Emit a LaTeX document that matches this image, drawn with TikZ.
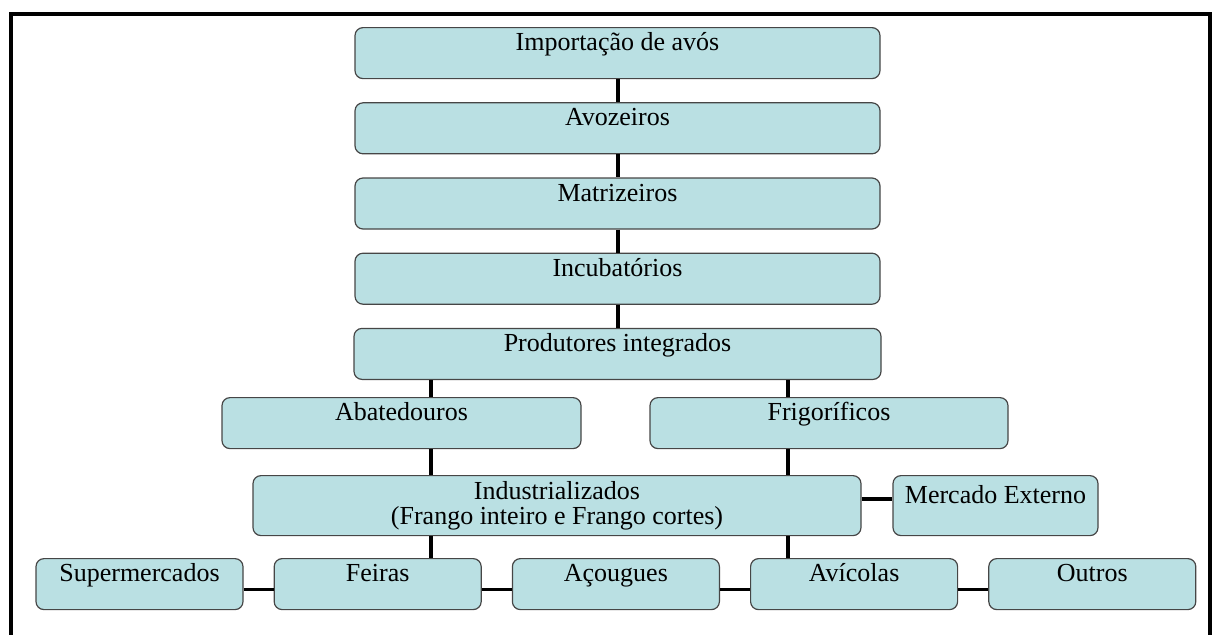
\documentclass[tikz,border=0pt]{standalone}
\usepackage{fontspec}
\setmainfont{Liberation Serif}
\usetikzlibrary{positioning}

\definecolor{caixaazul}{RGB}{186,224,227}
\definecolor{bordacinza}{RGB}{70,70,70}

\begin{document}
\begin{tikzpicture}[x=0.5pt, y=-0.5pt,
    caixa/.style={draw=bordacinza, fill=caixaazul, rounded corners=4pt, line width=0.6pt,
      inner xsep=0pt, inner ysep=0pt, text height=11.5pt, text depth=14pt, anchor=north,
      font=\fontsize{13}{15}\selectfont},
    liga/.style={line width=2pt},
    ligafina/.style={line width=1.5pt}]
        \useasboundingbox (0,0) rectangle (1216,634);
        % Moldura
        \draw[line width=1.6pt] (11,14) rectangle (1210,660);

        % Cadeia central
        \node (imp) [caixa, minimum width=262.5pt] at (617.5,27) {Importação de avós};
        \node (avo) [caixa, minimum width=262.5pt, below=11.5pt of imp] {Avozeiros};
        \node (mat) [caixa, minimum width=262.5pt, below=11.5pt of avo] {Matrizeiros};
        \node (inc) [caixa, minimum width=262.5pt, below=11.5pt of mat] {Incubatórios};
        \node (prod) [caixa, minimum width=263.5pt, below=11.5pt of inc] {Produtores integrados};

        \node (aba) [caixa, minimum width=179.5pt] at (401.5,397) {Abatedouros};
        \node (frig) [caixa, minimum width=179pt] at (829,397) {Frigoríficos};

        \node (ind) [caixa, minimum width=304pt, text height=, text depth=, minimum height=30pt,
          align=center, font=\fontsize{13}{12.5}\selectfont] at (557,475)
          {Industrializados\\(Frango inteiro e Frango cortes)};
        \node (mer) [caixa, minimum width=102.5pt, minimum height=30pt, text height=14pt,
          text depth=16pt] at (995.5,475) {Mercado Externo};

        % Varejo
        \node (sup) [caixa, minimum width=103.5pt] at (139.5,558) {Supermercados};
        \node (fei) [caixa, minimum width=103.5pt, right=15pt of sup] {Feiras};
        \node (aco) [caixa, minimum width=103.5pt, right=15pt of fei] {Açougues};
        \node (avi) [caixa, minimum width=103.5pt, right=15pt of aco] {Avícolas};
        \node (out) [caixa, minimum width=103.5pt, right=15pt of avi] {Outros};

        \coordinate (xa) at (431,0);
        \coordinate (xb) at (788,0);
        \coordinate (ym) at (0,499);
        \coordinate (yb) at (0,589);

        % Ligacoes
        \draw[liga] (imp.south) -- (avo.north);
        \draw[liga] (avo.south) -- (mat.north);
        \draw[liga] (mat.south) -- (inc.north);
        \draw[liga] (inc.south) -- (prod.north);
        \draw[liga] (xa |- prod.south) -- (xa |- aba.north);
        \draw[liga] (xb |- prod.south) -- (xb |- frig.north);
        \draw[liga] (xa |- aba.south) -- (xa |- ind.north);
        \draw[liga] (xb |- frig.south) -- (xb |- ind.north);
        \draw[liga] (ind.east |- ym) -- (mer.west |- ym);
        \draw[liga] (xa |- ind.south) -- (xa |- fei.north);
        \draw[liga] (xb |- ind.south) -- (xb |- avi.north);

        \draw[ligafina] (sup.east |- yb) -- (fei.west |- yb);
        \draw[ligafina] (fei.east |- yb) -- (aco.west |- yb);
        \draw[ligafina] (aco.east |- yb) -- (avi.west |- yb);
        \draw[ligafina] (avi.east |- yb) -- (out.west |- yb);
\end{tikzpicture}
\end{document}
